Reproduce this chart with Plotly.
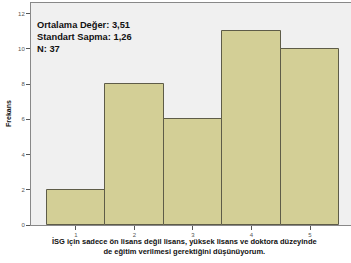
import plotly.graph_objects as go

categories = [1, 2, 3, 4, 5]
frequencies = [2, 8, 6, 11, 10]
y_ticks = [0, 2, 4, 6, 8, 10, 12]
stats_lines = ["Ortalama Değer: 3,51", "Standart Sapma: 1,26", "N: 37"]
x_title_lines = ["İSG için sadece ön lisans değil lisans, yüksek lisans ve doktora düzeyinde",
                 "de eğitim verilmesi gerektiğini düşünüyorum."]
y_title = "Frekans"

fig = go.Figure()
fig.add_trace(go.Bar(
    x=categories, y=frequencies, width=1,
    marker=dict(color="#d3cf96", line=dict(color="#5e5c48", width=1)),
    hoverinfo="skip",
))

fig.add_annotation(
    x=0, y=1, xref="paper", yref="paper", xanchor="left", yanchor="top",
    xshift=4, yshift=-15,
    text="<br>".join("<b>" + s + "</b>" for s in stats_lines), align="left", showarrow=False,
    font=dict(family="Liberation Sans, Arial", size=9.3, color="#111111"),
)
fig.add_annotation(
    x=0.48, y=0, xref="paper", yref="paper", xanchor="center", yanchor="top",
    yshift=-10,
    text="<br>".join("<b>" + s + "</b>" for s in x_title_lines), align="center", showarrow=False,
    font=dict(family="Liberation Sans, Arial", size=7.5, color="#111111"),
)
fig.add_annotation(
    x=0, y=0.5, xref="paper", yref="paper", xanchor="center", yanchor="middle",
    xshift=-23, textangle=-90,
    text="<b>" + y_title + "</b>", showarrow=False,
    font=dict(family="Liberation Sans, Arial", size=7, color="#111111"),
)

fig.update_layout(
    width=351, height=263,
    margin=dict(l=31, r=0, t=3, b=38, pad=0, autoexpand=False),
    paper_bgcolor="white", plot_bgcolor="#f0f0f0",
    showlegend=False,
    bargap=0,
    font=dict(family="Liberation Sans, Arial"),
)
fig.update_xaxes(
    range=[0.234, 5.70], tickvals=categories, ticks="outside", ticklen=4,
    tickcolor="#555555", tickfont=dict(size=6, color="#555555"),
    showline=True, linecolor="#888888", mirror=True, showgrid=False, zeroline=False,
    automargin=False,
)
fig.update_yaxes(
    range=[0, 12.6], tickvals=y_ticks, ticks="outside", ticklen=4,
    tickcolor="#555555", tickfont=dict(size=6, color="#555555"),
    showline=True, linecolor="#888888", showgrid=False, zeroline=False,
    automargin=False,
)
fig.write_html("out.html", config={"displayModeBar": False},
               post_script="document.body.style.margin='0';document.body.style.overflow='hidden';")
